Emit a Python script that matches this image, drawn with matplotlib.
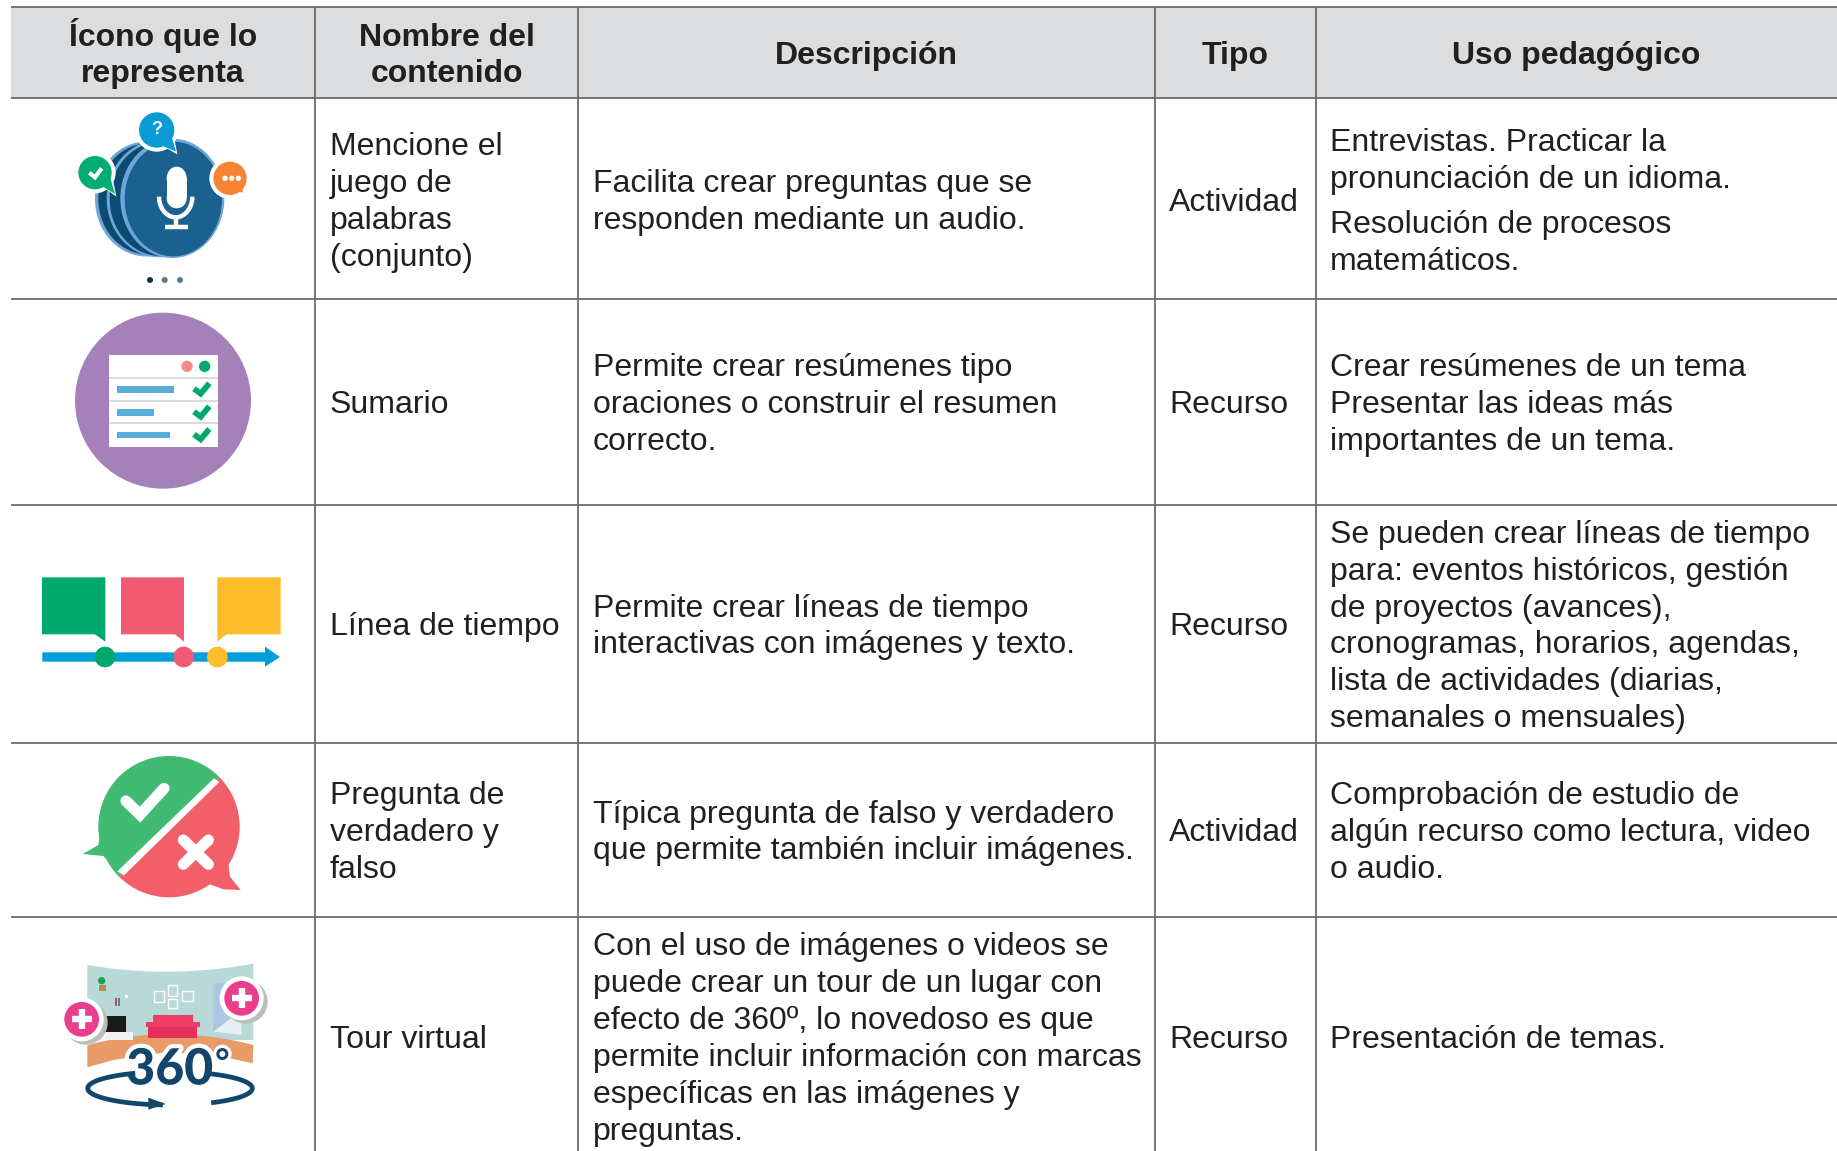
import numpy as np
import matplotlib
matplotlib.use("Agg")
import matplotlib.pyplot as plt
import matplotlib.patheffects as pe
from matplotlib.patches import Circle, Ellipse, Polygon, Rectangle

plt.rcParams["font.family"] = ["Liberation Sans", "DejaVu Sans"]

# -------------------------------------------------------
# TABLE TEXT
# -------------------------------------------------------
headers = ["Ícono que lo\nrepresenta", "Nombre del\ncontenido", "Descripción", "Tipo", "Uso pedagógico"]

nombres = [
    "Mencione el\njuego de\npalabras\n(conjunto)",
    "Sumario",
    "Línea de tiempo",
    "Pregunta de\nverdadero y\nfalso",
    "Tour virtual",
]
descripciones = [
    "Facilita crear preguntas que se\nresponden mediante un audio.",
    "Permite crear resúmenes tipo\noraciones o construir el resumen\ncorrecto.",
    "Permite crear líneas de tiempo\ninteractivas con imágenes y texto.",
    "Típica pregunta de falso y verdadero\nque permite también incluir imágenes.",
    "Con el uso de imágenes o videos se\npuede crear un tour de un lugar con\nefecto de 360º, lo novedoso es que\n"
    "permite incluir información con marcas\nespecíficas en las imágenes y\npreguntas.",
]
tipos = ["Actividad", "Recurso", "Recurso", "Actividad", "Recurso"]
usos = [
    "Entrevistas. Practicar la\npronunciación de un idioma.\n|Resolución de procesos\nmatemáticos.",
    "Crear resúmenes de un tema\nPresentar las ideas más\nimportantes de un tema.",
    "Se pueden crear líneas de tiempo\npara: eventos históricos, gestión\nde proyectos (avances),\n"
    "cronogramas, horarios, agendas,\nlista de actividades (diarias,\nsemanales o mensuales)",
    "Comprobación de estudio de\nalgún recurso como lectura, video\no audio.",
    "Presentación de temas.",
]

# Table geometry in pixels of the reference
col_lines = [11, 315, 578, 1155, 1316]
row_lines = [7, 98, 299, 505, 743, 917]
row_centers = [199, 401.5, 623.5, 829.5, 1036]
text_x = [330, 593, 1169, 1330]
header_x = [163, 446.5, 866, 1235, 1576]

GRID = "#6c6c6c"
INK = "#231f20"
HEAD = "#dcdddf"
FS = 23.0
LINE = 36.9

fig = plt.figure(figsize=(18.37, 11.51), dpi=100)
ax = fig.add_axes([0, 0, 1, 1])
ax.set_xlim(0, 1837)
ax.set_ylim(1151, 0)
ax.axis("off")

# -------------------------------------------------------
# GRID AND HEADER
# -------------------------------------------------------
ax.add_patch(Rectangle((11, 7), 1826, 91, fc=HEAD, ec="none", zorder=0))
for y in row_lines:
    ax.plot([11, 1837], [y, y], color=GRID, lw=1.3, solid_capstyle="butt", zorder=1)
for x in col_lines[1:]:
    ax.plot([x, x], [7, 1151], color=GRID, lw=1.3, solid_capstyle="butt", zorder=1)


def block(x, yc, txt, **kw):
    # one text per line, so the spacing stays the same as the reference
    lines = txt.split("\n")
    gaps = [9 if l.startswith("|") else 0 for l in lines]
    ys = np.arange(len(lines)) * LINE + np.cumsum(gaps)
    ys = ys - (ys[0] + ys[-1]) / 2
    for line, dy in zip(lines, ys):
        ax.text(x, yc + dy + 11.5, line.lstrip("|"), fontsize=FS, color=INK, va="baseline", **kw)


for x, h in zip(header_x, headers):
    lines = h.split("\n")
    for i, line in enumerate(lines):
        y = 53 + (i - (len(lines) - 1) / 2) * 36 + 11
        ax.text(x, y, line, fontsize=FS, color=INK, ha="center", va="baseline", fontweight="bold")

for i, yc in enumerate(row_centers):
    block(text_x[0], yc, nombres[i])
    block(text_x[1], yc, descripciones[i])
    block(text_x[2], yc, tipos[i])
    block(text_x[3], yc, usos[i])


# -------------------------------------------------------
# ICONS (zoomed coordinates: pixel = z / 3 + offset)
# -------------------------------------------------------
def make_z(oy):
    def z(x, y):
        return (x / 3, y / 3 + oy)
    return z


def zpoly(z, pts, **kw):
    p = Polygon([z(*q) for q in pts], closed=True, ec="none", **kw)
    ax.add_patch(p)
    return p


def zline(z, pts, color, lw, cap="round", zorder=3):
    xy = np.array([z(*q) for q in pts])
    ax.plot(xy[:, 0], xy[:, 1], color=color, lw=lw, solid_capstyle=cap, solid_joinstyle="miter", zorder=zorder)


def zcircle(z, x, y, r, color, zorder=3):
    ax.add_patch(Circle(z(x, y), r / 3, fc=color, ec="none", zorder=zorder))


def zellipse(z, x, y, w, h, color, zorder=3):
    ax.add_patch(Ellipse(z(x, y), w / 3, h / 3, fc=color, ec="none", zorder=zorder))


def zrect(z, x0, y0, x1, y1, color, zorder=3):
    ax.add_patch(Rectangle(z(x0, y0), (x1 - x0) / 3, (y1 - y0) / 3, fc=color, ec="none", zorder=zorder))


# Icon 1: microphone
z = make_z(0)
RIM = "#6ea6da"
NAVY = "#0d4a70"
DISK = "#1a6190"
zellipse(z, 440, 597, 310, 345, RIM, 2)
zellipse(z, 444, 597, 298, 333, NAVY, 2)
zellipse(z, 478, 596, 316, 352, RIM, 2)
zellipse(z, 482, 597, 306, 342, NAVY, 2)
zellipse(z, 517, 595, 312, 358, RIM, 2)
zellipse(z, 520, 597, 292, 344, DISK, 2)
zrect(z, 500, 535, 560, 595, "white", 3)
zellipse(z, 530, 535, 60, 70, "white", 3)
zellipse(z, 530, 595, 60, 60, "white", 3)
t = np.linspace(np.pi, 0, 30)
zline(z, list(zip(527 + 50 * np.cos(t), 590 + 62 * np.sin(t))), "white", 3.2, "butt")
zline(z, [(527, 652), (527, 682)], "white", 3.2, "butt")
zline(z, [(495, 682), (565, 682)], "white", 3.2, "butt")

for (bx, by, br, col, tail) in [
    (285, 518, 50, "#03ac72", [(300, 555), (345, 582), (330, 530)]),
    (470, 390, 53, "#0a9bd6", [(470, 430), (528, 455), (515, 410)]),
    (690, 535, 50, "#f58434", [(690, 570), (728, 578), (728, 540)]),
]:
    zcircle(z, bx, by, br + 12, "white", 4)
    zpoly(z, [(tail[0][0] - 6, tail[0][1] - 6), (tail[1][0] + 4, tail[1][1] + 8), (tail[2][0] + 6, tail[2][1] - 6)], fc="white", zorder=4)
    zcircle(z, bx, by, br, col, 5)
    zpoly(z, tail, fc=col, zorder=5)
zline(z, [(268, 518), (285, 532), (305, 505)], "white", 3, "butt", 6)
ax.text(*z(469, 388), "?", color="white", fontsize=13, fontweight="bold", ha="center", va="center", zorder=6)
for dx in [-20, 0, 20]:
    zcircle(z, 695 + dx, 535, 8, "white", 6)
for dx, col in zip([450, 494, 540], ["#1a2e44", "#64798a", "#64798a"]):
    zcircle(z, dx, 840, 9, col, 3)

# Icon 2: summary list
z = make_z(300)
zcircle(z, 489, 302, 264, "#a581ba", 2)
zrect(z, 326, 165, 653, 440, "white", 3)
for y in [235, 302, 368]:
    zline(z, [(326, y), (653, y)], "#d9d9d9", 1.3, "butt", 4)
zcircle(z, 561, 199, 17, "#f58a8a", 4)
zcircle(z, 614, 199, 17, "#00a870", 4)
for y, x1 in zip([268, 337, 405], [522, 463, 510]):
    zrect(z, 352, y - 10, x1, y + 10, "#58acd9", 4)
    zline(z, [(582, y - 2), (602, y + 13), (628, y - 18)], "#00a870", 4.2, "butt", 4)

# Icon 3: timeline
z = make_z(300)
C3 = ["#00a96b", "#f05a72", "#fdbc2c"]
zpoly(z, [(126, 832), (316, 832), (316, 1025), (285, 1003), (126, 1003)], fc=C3[0], zorder=3)
zpoly(z, [(363, 832), (552, 832), (552, 1025), (525, 1003), (363, 1003)], fc=C3[1], zorder=3)
zpoly(z, [(652, 832), (842, 832), (842, 1003), (680, 1003), (652, 1025)], fc=C3[2], zorder=3)
zpoly(z, [(127, 1057), (795, 1057), (795, 1040), (840, 1071), (795, 1100), (795, 1085), (127, 1085)], fc="#009fda", zorder=3)
for x, c in zip([315, 551, 652], C3):
    zcircle(z, x, 1071, 31, c, 4)

# Icon 4: true / false bubble
z = make_z(730)
GREEN = "#41ba74"
RED = "#f25f68"
zpoly(z, [(300, 315), (295, 345), (248, 372), (310, 378), (352, 422), (420, 350)], fc=GREEN, zorder=3)
zpoly(z, [(685, 400), (690, 440), (722, 480), (670, 478), (630, 463), (600, 400)], fc=RED, zorder=3)
c_green = Circle(z(507, 290), 212 / 3, fc=GREEN, ec="none", zorder=3)
c_red = Circle(z(507, 290), 212 / 3, fc=RED, ec="none", zorder=3)
ax.add_patch(c_green)
ax.add_patch(c_red)
clip_red = Polygon([z(700, 100), z(900, 300), z(500, 700), z(300, 500)], closed=True, transform=ax.transData)
c_red.set_clip_path(clip_red)
clip_green = Polygon([z(700, 100), z(500, -100), z(100, 300), z(300, 500)], closed=True, transform=ax.transData)
c_green.set_clip_path(clip_green)
zpoly(z, [(352, 424), (642, 145), (658, 156), (372, 436)], fc="white", zorder=4)
zline(z, [(378, 213), (420, 254), (492, 175)], "white", 8, "round", 5)
zline(z, [(550, 330), (625, 403)], "white", 8, "round", 5)
zline(z, [(625, 330), (550, 403)], "white", 8, "round", 5)

# Icon 5: 360 tour
t = np.linspace(0, 1, 40)
wall_top = [(262 + 498 * a, 705 + 22 * 4 * a * (1 - a) - 4 * a) for a in t]
zpoly(z, wall_top + [(760, 930), (262, 930)], fc="#b9d8d8", zorder=2)
floor_top = [(262 + 498 * a, 945 - 32 * 4 * a * (1 - a)) for a in t]
zpoly(z, floor_top + [(758, 1000), (690, 985), (510, 965), (340, 990), (262, 1012)], fc="#e89a68", zorder=2)
zpoly(z, [(640, 760), (725, 760), (725, 915), (640, 905)], fc="#a9c7e2", zorder=2)
zpoly(z, [(640, 905), (725, 840), (725, 915)], fc="#e8eef2", zorder=2)
# sofa
zrect(z, 458, 855, 578, 885, "#ee3e66", 3)
zrect(z, 437, 875, 600, 892, "#ee3e66", 3)
zrect(z, 445, 892, 592, 925, "#e5305c", 3)
# tv and shelf
zrect(z, 305, 857, 378, 905, "#1a1a1a", 3)
zrect(z, 290, 905, 400, 930, "#f2f2f2", 3)
# plant and books
zcircle(z, 305, 752, 11, "#1fa05a", 3)
zrect(z, 298, 765, 318, 782, "#b58a4a", 3)
zrect(z, 345, 805, 352, 828, "#d0503f", 3)
zrect(z, 353, 805, 360, 828, "#3b86b5", 3)
zrect(z, 375, 795, 385, 805, "white", 3)
# picture frames
for x0, y0, x1, y1 in [(462, 783, 492, 815), (503, 765, 532, 797), (545, 782, 580, 812), (503, 808, 532, 835)]:
    ax.add_patch(Rectangle(z(x0, y0), (x1 - x0) / 3, (y1 - y0) / 3, fc="none", ec="white", lw=1.0, zorder=3))
# pink markers
for x, y in [(245, 868), (725, 805)]:
    zcircle(z, x + 12, y + 10, 66, "#bdbdbd", 4)
    zcircle(z, x, y, 66, "white", 4)
    zcircle(z, x, y, 52, "#ea3d8d", 5)
    zline(z, [(x - 30, y), (x + 30, y)], "white", 4.6, "butt", 6)
    zline(z, [(x, y - 30), (x, y + 30)], "white", 4.6, "butt", 6)
# 360 with its white halo and the ring arrow
ax.text(*z(509, 1020), "360", color="#12456b", fontsize=36, fontweight=900, ha="center", va="center", zorder=5,
        family="Lato", path_effects=[pe.withStroke(linewidth=6, foreground="white")])
zcircle(z, 667, 972, 28, "white", 4)
zcircle(z, 667, 972, 18, "#12456b", 5)
zcircle(z, 667, 972, 9, "white", 6)
a = np.linspace(np.radians(245), np.radians(95), 40)
zline(z, list(zip(510 + 247 * np.cos(a), 1075 + 50 * np.sin(a))), "#12456b", 3.4, "butt", 5)
a = np.linspace(np.radians(-65), np.radians(60), 40)
zline(z, list(zip(510 + 247 * np.cos(a), 1075 + 50 * np.sin(a))), "#12456b", 3.4, "butt", 5)
zpoly(z, [(445, 1103), (497, 1122), (445, 1139)], fc="#12456b", zorder=5)

fig.savefig("out.png", dpi=100)
